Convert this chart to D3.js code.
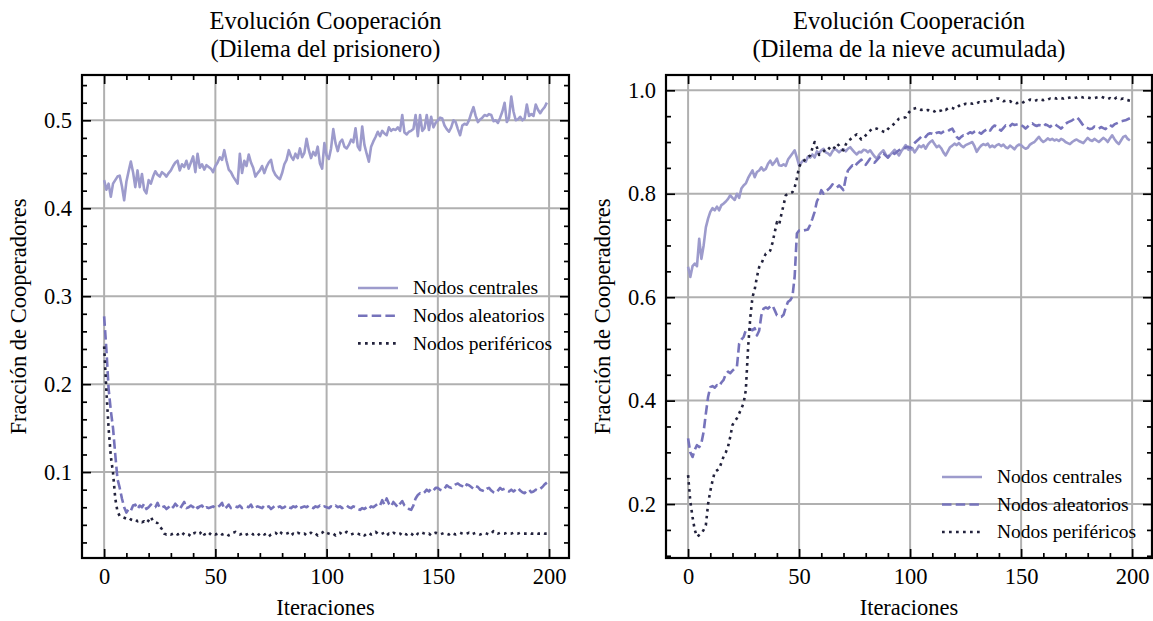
<!DOCTYPE html>
<html><head><meta charset="utf-8">
<script src="https://cdn.jsdelivr.net/npm/d3@7"></script>
<style>body{margin:0;background:#fff}svg{display:block}</style>
</head><body>
<svg id="c" width="1153" height="621"></svg>
<script>
// ---- DATA ----
const iterations = d3.range(0, 200);
const seriesNames = ["Nodos centrales", "Nodos aleatorios", "Nodos periféricos"];
const titlesLeft = ["Evolución Cooperación", "(Dilema del prisionero)"];
const titlesRight = ["Evolución Cooperación", "(Dilema de la nieve acumulada)"];
const xLabel = "Iteraciones";
const yLabel = "Fracción de Cooperadores";
const xTicks = [0, 50, 100, 150, 200];
const yTicksLeft = [0.1, 0.2, 0.3, 0.4, 0.5];
const yTicksRight = [0.2, 0.4, 0.6, 0.8, 1.0];

const pdCentral = [0.432,0.421,0.428,0.413,0.428,0.432,0.436,0.437,0.425,0.409,
0.430,0.442,0.453,0.441,0.424,0.443,0.424,0.439,0.421,0.417,
0.432,0.428,0.436,0.442,0.438,0.436,0.441,0.439,0.436,0.440,
0.443,0.448,0.452,0.454,0.443,0.450,0.447,0.454,0.445,0.452,
0.459,0.441,0.462,0.446,0.450,0.444,0.449,0.447,0.445,0.441,
0.448,0.452,0.458,0.455,0.466,0.454,0.444,0.441,0.436,0.432,
0.428,0.462,0.440,0.454,0.448,0.461,0.452,0.446,0.436,0.440,
0.443,0.448,0.440,0.447,0.452,0.455,0.443,0.438,0.435,0.433,
0.440,0.450,0.455,0.466,0.459,0.455,0.462,0.457,0.468,0.458,
0.463,0.479,0.466,0.457,0.464,0.460,0.470,0.451,0.445,0.474,
0.460,0.456,0.468,0.490,0.474,0.465,0.475,0.478,0.470,0.468,
0.472,0.478,0.475,0.491,0.470,0.466,0.493,0.472,0.462,0.453,
0.470,0.476,0.481,0.487,0.482,0.488,0.485,0.483,0.492,0.488,
0.490,0.489,0.492,0.488,0.506,0.486,0.484,0.487,0.488,0.490,
0.506,0.482,0.506,0.488,0.491,0.506,0.489,0.504,0.492,0.497,
0.500,0.503,0.502,0.494,0.490,0.487,0.492,0.500,0.498,0.490,
0.483,0.494,0.496,0.495,0.500,0.508,0.515,0.505,0.498,0.501,
0.503,0.506,0.505,0.507,0.506,0.499,0.500,0.497,0.503,0.510,
0.520,0.498,0.503,0.527,0.510,0.500,0.501,0.504,0.500,0.502,
0.518,0.505,0.507,0.505,0.518,0.512,0.508,0.512,0.515,0.520];

const pdRandom = [0.277,0.240,0.195,0.170,0.150,0.120,0.092,0.082,0.070,0.060,
0.054,0.058,0.056,0.062,0.063,0.058,0.062,0.060,0.064,0.058,
0.060,0.063,0.060,0.060,0.065,0.059,0.060,0.061,0.058,0.060,
0.063,0.060,0.064,0.061,0.058,0.062,0.066,0.059,0.060,0.062,
0.060,0.063,0.059,0.061,0.062,0.058,0.060,0.059,0.060,0.061,
0.059,0.060,0.062,0.065,0.058,0.060,0.063,0.059,0.060,0.061,
0.060,0.062,0.059,0.060,0.061,0.060,0.063,0.058,0.060,0.061,
0.060,0.059,0.062,0.060,0.061,0.058,0.060,0.062,0.060,0.061,
0.059,0.060,0.062,0.060,0.059,0.061,0.060,0.062,0.059,0.060,
0.061,0.060,0.062,0.060,0.059,0.061,0.060,0.062,0.060,0.061,
0.060,0.059,0.061,0.060,0.062,0.060,0.061,0.059,0.060,0.062,
0.060,0.059,0.061,0.060,0.058,0.057,0.059,0.058,0.060,0.058,
0.061,0.060,0.062,0.064,0.062,0.068,0.063,0.070,0.064,0.061,
0.066,0.063,0.060,0.064,0.067,0.062,0.060,0.058,0.057,0.062,
0.070,0.074,0.076,0.075,0.077,0.080,0.078,0.081,0.079,0.082,
0.082,0.080,0.079,0.081,0.085,0.083,0.082,0.084,0.086,0.087,
0.085,0.084,0.082,0.086,0.085,0.083,0.081,0.084,0.083,0.080,
0.079,0.078,0.081,0.082,0.079,0.077,0.076,0.079,0.082,0.080,
0.081,0.079,0.078,0.080,0.078,0.080,0.082,0.079,0.077,0.076,
0.079,0.080,0.077,0.078,0.080,0.079,0.081,0.083,0.086,0.088];

const pdPeripheral = [0.243,0.193,0.150,0.118,0.099,0.070,0.055,0.050,0.049,0.048,
0.047,0.048,0.046,0.045,0.046,0.044,0.045,0.043,0.044,0.042,
0.045,0.049,0.044,0.043,0.042,0.038,0.035,0.030,0.029,0.030,
0.029,0.030,0.031,0.029,0.030,0.028,0.031,0.030,0.029,0.027,
0.030,0.031,0.029,0.030,0.033,0.029,0.030,0.028,0.031,0.030,
0.029,0.030,0.031,0.029,0.030,0.030,0.028,0.029,0.031,0.032,
0.030,0.029,0.030,0.028,0.029,0.030,0.031,0.029,0.030,0.028,
0.030,0.031,0.029,0.030,0.027,0.029,0.030,0.031,0.029,0.032,
0.030,0.029,0.030,0.031,0.028,0.030,0.029,0.031,0.030,0.029,
0.030,0.028,0.030,0.031,0.029,0.030,0.028,0.030,0.031,0.033,
0.031,0.030,0.029,0.030,0.028,0.030,0.031,0.029,0.030,0.032,
0.030,0.029,0.030,0.031,0.030,0.029,0.030,0.028,0.030,0.031,
0.029,0.030,0.032,0.030,0.029,0.030,0.031,0.028,0.030,0.029,
0.031,0.030,0.029,0.030,0.028,0.030,0.029,0.031,0.030,0.028,
0.027,0.030,0.029,0.031,0.030,0.029,0.030,0.028,0.030,0.031,
0.030,0.029,0.030,0.031,0.030,0.029,0.031,0.030,0.029,0.030,
0.031,0.030,0.029,0.030,0.031,0.029,0.030,0.031,0.030,0.029,
0.030,0.031,0.030,0.029,0.030,0.033,0.031,0.030,0.031,0.030,
0.030,0.031,0.030,0.030,0.031,0.030,0.030,0.031,0.030,0.030,
0.030,0.031,0.030,0.030,0.031,0.030,0.030,0.031,0.030,0.030];

const sdCentral = [0.659,0.639,0.660,0.665,0.660,0.713,0.674,0.700,0.735,0.752,
0.765,0.772,0.768,0.775,0.768,0.778,0.781,0.785,0.790,0.797,
0.792,0.788,0.800,0.792,0.810,0.816,0.820,0.830,0.838,0.845,
0.832,0.842,0.845,0.851,0.845,0.848,0.858,0.864,0.856,0.861,
0.868,0.855,0.854,0.857,0.854,0.866,0.872,0.878,0.884,0.870,
0.855,0.860,0.865,0.862,0.872,0.870,0.876,0.870,0.882,0.878,
0.884,0.887,0.880,0.878,0.874,0.882,0.887,0.884,0.880,0.884,
0.886,0.882,0.887,0.890,0.885,0.880,0.876,0.881,0.880,0.885,
0.884,0.880,0.884,0.878,0.872,0.868,0.875,0.880,0.884,0.876,
0.870,0.875,0.880,0.885,0.880,0.874,0.882,0.888,0.894,0.886,
0.884,0.888,0.880,0.886,0.893,0.890,0.894,0.887,0.895,0.900,
0.903,0.896,0.890,0.893,0.888,0.880,0.874,0.882,0.890,0.893,
0.897,0.894,0.898,0.893,0.890,0.894,0.896,0.898,0.900,0.892,
0.881,0.888,0.893,0.896,0.894,0.897,0.890,0.893,0.890,0.894,
0.896,0.892,0.895,0.890,0.888,0.893,0.890,0.886,0.892,0.895,
0.894,0.890,0.887,0.889,0.895,0.898,0.900,0.905,0.910,0.904,
0.900,0.903,0.907,0.904,0.906,0.903,0.905,0.902,0.906,0.904,
0.900,0.898,0.896,0.900,0.903,0.905,0.902,0.900,0.898,0.903,
0.908,0.904,0.902,0.906,0.903,0.900,0.904,0.908,0.905,0.900,
0.907,0.913,0.906,0.900,0.896,0.903,0.910,0.912,0.906,0.903];

const sdRandom = [0.327,0.300,0.291,0.305,0.314,0.310,0.318,0.340,0.375,0.407,
0.426,0.428,0.425,0.430,0.428,0.435,0.440,0.452,0.456,0.453,
0.458,0.462,0.466,0.510,0.518,0.523,0.536,0.539,0.538,0.536,
0.540,0.526,0.535,0.565,0.578,0.580,0.578,0.582,0.584,0.575,
0.565,0.563,0.562,0.566,0.580,0.591,0.594,0.601,0.640,0.723,
0.729,0.730,0.729,0.730,0.731,0.740,0.752,0.765,0.785,0.794,
0.807,0.800,0.805,0.808,0.812,0.818,0.815,0.812,0.816,0.812,
0.807,0.830,0.845,0.850,0.855,0.852,0.858,0.862,0.866,0.860,
0.856,0.862,0.868,0.864,0.860,0.865,0.870,0.875,0.878,0.874,
0.870,0.876,0.880,0.877,0.881,0.884,0.886,0.885,0.890,0.891,
0.888,0.894,0.898,0.902,0.906,0.910,0.913,0.910,0.915,0.917,
0.916,0.914,0.918,0.919,0.917,0.920,0.922,0.921,0.924,0.926,
0.918,0.910,0.906,0.910,0.913,0.912,0.916,0.919,0.917,0.920,
0.922,0.919,0.916,0.920,0.923,0.926,0.922,0.928,0.932,0.930,
0.925,0.922,0.927,0.932,0.929,0.931,0.935,0.933,0.934,0.935,
0.933,0.930,0.926,0.930,0.934,0.936,0.933,0.931,0.933,0.932,
0.930,0.934,0.932,0.929,0.933,0.935,0.932,0.929,0.926,0.930,
0.935,0.938,0.940,0.942,0.945,0.948,0.944,0.938,0.932,0.929,
0.927,0.925,0.926,0.930,0.928,0.926,0.929,0.927,0.925,0.929,
0.933,0.930,0.934,0.936,0.938,0.940,0.941,0.942,0.944,0.946];

const sdPeripheral = [0.256,0.205,0.175,0.150,0.137,0.140,0.143,0.150,0.159,0.200,
0.225,0.245,0.262,0.265,0.268,0.280,0.292,0.300,0.311,0.330,
0.353,0.360,0.366,0.375,0.385,0.395,0.420,0.500,0.560,0.600,
0.615,0.639,0.658,0.665,0.675,0.684,0.686,0.690,0.705,0.725,
0.745,0.740,0.760,0.778,0.797,0.800,0.801,0.803,0.812,0.830,
0.852,0.860,0.862,0.868,0.871,0.874,0.888,0.900,0.890,0.875,
0.878,0.882,0.886,0.890,0.886,0.884,0.890,0.897,0.893,0.886,
0.884,0.895,0.902,0.905,0.909,0.912,0.915,0.910,0.905,0.908,
0.913,0.918,0.922,0.926,0.925,0.926,0.924,0.922,0.920,0.919,
0.925,0.930,0.932,0.936,0.941,0.945,0.946,0.947,0.948,0.955,
0.960,0.964,0.965,0.966,0.964,0.962,0.963,0.961,0.962,0.960,
0.961,0.959,0.962,0.960,0.961,0.964,0.962,0.965,0.967,0.966,
0.964,0.966,0.970,0.973,0.972,0.974,0.973,0.975,0.974,0.976,
0.975,0.977,0.976,0.978,0.979,0.980,0.978,0.981,0.982,0.984,
0.984,0.982,0.979,0.980,0.978,0.979,0.976,0.977,0.975,0.976,
0.974,0.977,0.979,0.980,0.982,0.981,0.979,0.981,0.980,0.982,
0.981,0.983,0.982,0.984,0.983,0.985,0.984,0.986,0.985,0.984,
0.986,0.985,0.986,0.987,0.985,0.986,0.988,0.987,0.986,0.987,
0.986,0.985,0.984,0.985,0.986,0.987,0.988,0.986,0.984,0.983,
0.985,0.982,0.983,0.986,0.985,0.983,0.984,0.982,0.981,0.980];

// ---- STYLE ----
const colors = ["#9d9bcc", "#7673bb", "#22223c"];
const dashes = [null, "9.5,4.2", "2.7,4.3"];
const FONT = "'Liberation Serif','Times New Roman',serif";

const svg = d3.select("#c");

function panel(opt) {
  const {x0, x1, y0, y1, ydom, yTicks, yMinorStep, series, titles, legend, ylabX, ytickFmt} = opt;
  const x = d3.scaleLinear().domain([-9.95, 208.95]).range([x0, x1]);
  const y = d3.scaleLinear().domain(ydom).range([y1, y0]);
  const g = svg.append("g");

  // grid
  g.append("g").selectAll("line").data(xTicks).join("line")
    .attr("x1", d => x(d)).attr("x2", d => x(d)).attr("y1", y0).attr("y2", y1)
    .attr("stroke", "#b0b0b0").attr("stroke-width", 2);
  g.append("g").selectAll("line").data(yTicks).join("line")
    .attr("y1", d => y(d)).attr("y2", d => y(d)).attr("x1", x0).attr("x2", x1)
    .attr("stroke", "#b0b0b0").attr("stroke-width", 2);

  // lines
  const clipId = "clip" + Math.round(x0);
  svg.append("clipPath").attr("id", clipId).append("rect")
    .attr("x", x0).attr("y", y0).attr("width", x1 - x0).attr("height", y1 - y0);
  const line = d3.line().x((d, i) => x(iterations[i])).y(d => y(d));
  series.forEach((s, k) => {
    g.append("path").attr("clip-path", `url(#${clipId})`).datum(s)
      .attr("d", line).attr("fill", "none").attr("stroke", colors[k])
      .attr("stroke-width", 2.6).attr("stroke-dasharray", dashes[k])
      .attr("stroke-linejoin", "round");
  });

  const xMinor = d3.range(-0, 201, 10).filter(v => v % 50 !== 0);
  const yMinor = d3.range(Math.ceil(ydom[0] / yMinorStep) * yMinorStep, ydom[1], yMinorStep)
      .map(v => +v.toFixed(4)).filter(v => !yTicks.some(t => Math.abs(t - v) < 1e-6));

  const style = sel => {
    sel.select(".domain").remove();
    sel.selectAll("line").attr("stroke", "#000").attr("stroke-width", 1.7);
    sel.selectAll("text").attr("font-family", FONT).attr("font-size", 22.5).attr("fill", "#000");
  };
  // major axes
  g.append("g").attr("transform", `translate(0,${y1})`)
    .call(d3.axisBottom(x).tickValues(xTicks).tickSize(-9).tickPadding(10)).call(style);
  g.append("g").attr("transform", `translate(0,${y0})`)
    .call(d3.axisTop(x).tickValues(xTicks).tickSize(-9).tickFormat("")).call(style);
  g.append("g").attr("transform", `translate(${x0},0)`)
    .call(d3.axisLeft(y).tickValues(yTicks).tickSize(-9).tickPadding(10).tickFormat(ytickFmt)).call(style);
  g.append("g").attr("transform", `translate(${x1},0)`)
    .call(d3.axisRight(y).tickValues(yTicks).tickSize(-9).tickFormat("")).call(style);
  // minor axes
  g.append("g").attr("transform", `translate(0,${y1})`)
    .call(d3.axisBottom(x).tickValues(xMinor).tickSize(-5).tickFormat("")).call(style);
  g.append("g").attr("transform", `translate(0,${y0})`)
    .call(d3.axisTop(x).tickValues(xMinor).tickSize(-5).tickFormat("")).call(style);
  g.append("g").attr("transform", `translate(${x0},0)`)
    .call(d3.axisLeft(y).tickValues(yMinor).tickSize(-5).tickFormat("")).call(style);
  g.append("g").attr("transform", `translate(${x1},0)`)
    .call(d3.axisRight(y).tickValues(yMinor).tickSize(-5).tickFormat("")).call(style);

  // frame
  g.append("rect").attr("x", x0).attr("y", y0).attr("width", x1 - x0).attr("height", y1 - y0)
    .attr("fill", "none").attr("stroke", "#000").attr("stroke-width", 2.2);

  // titles
  const cx = (x0 + x1) / 2;
  g.append("text").attr("x", cx).attr("y", 29).attr("text-anchor", "middle")
    .attr("font-family", FONT).attr("font-size", 24.5).text(titles[0]);
  g.append("text").attr("x", cx).attr("y", 56.5).attr("text-anchor", "middle")
    .attr("font-family", FONT).attr("font-size", 24.5).text(titles[1]);
  // axis labels
  g.append("text").attr("x", cx).attr("y", 615).attr("text-anchor", "middle")
    .attr("font-family", FONT).attr("font-size", 22.5).text(xLabel);
  g.append("text").attr("transform", `translate(${ylabX},${(y0 + y1) / 2}) rotate(-90)`)
    .attr("text-anchor", "middle").attr("font-family", FONT).attr("font-size", 22.5).text(yLabel);

  // legend
  const lg = g.append("g");
  seriesNames.forEach((name, k) => {
    const ly = legend.y + k * legend.dy;
    lg.append("line").attr("x1", legend.x).attr("x2", legend.x + 40).attr("y1", ly).attr("y2", ly)
      .attr("stroke", colors[k]).attr("stroke-width", 2.6).attr("stroke-dasharray", dashes[k]);
    lg.append("text").attr("x", legend.x + 55).attr("y", ly).attr("dy", "0.33em")
      .attr("font-family", FONT).attr("font-size", 19.5).text(name);
  });
}

panel({x0: 82, x1: 569, y0: 75, y1: 558, ydom: [0.0023, 0.5515], yTicks: yTicksLeft, yMinorStep: 0.02,
  series: [pdCentral, pdRandom, pdPeripheral], titles: titlesLeft,
  legend: {x: 358, y: 288, dy: 27.7}, ylabX: 26, ytickFmt: d3.format(".1f")});
panel({x0: 666, x1: 1152, y0: 75, y1: 558, ydom: [0.0957, 1.0296], yTicks: yTicksRight, yMinorStep: 0.05,
  series: [sdCentral, sdRandom, sdPeripheral], titles: titlesRight,
  legend: {x: 942, y: 477, dy: 27.5}, ylabX: 610, ytickFmt: d3.format(".1f")});
</script>
</body></html>
